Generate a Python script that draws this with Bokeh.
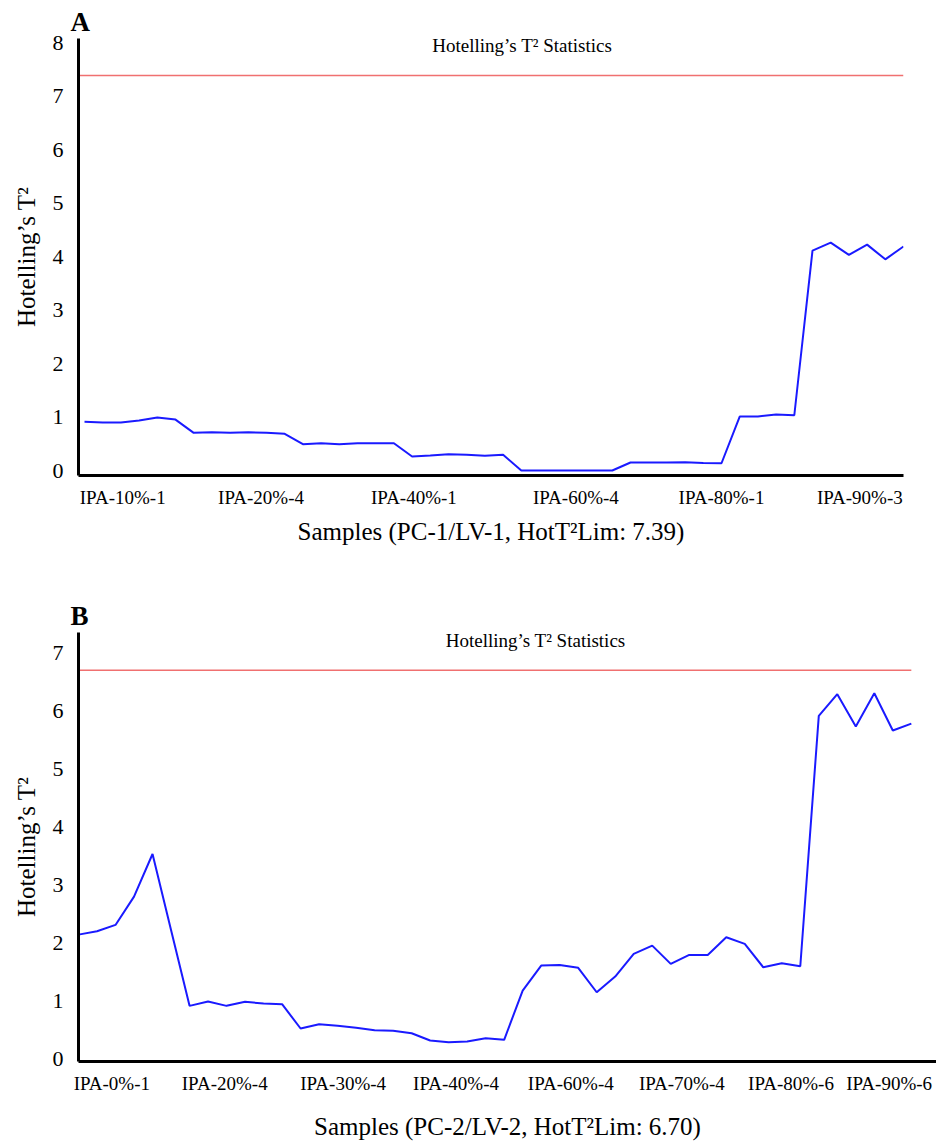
from bokeh.plotting import figure
from bokeh.layouts import column
from bokeh.models import FixedTicker, Label, Range1d
from bokeh.embed import file_html
from bokeh.resources import INLINE

FONT = "Liberation Serif"

# ---------------- data ----------------
# Panel A (PC-1/LV-1)
a_values = [0.910, 0.897, 0.897, 0.935, 0.991, 0.953,
            0.705, 0.716, 0.705, 0.716, 0.705, 0.686,
            0.492, 0.510, 0.492, 0.510, 0.510, 0.510,
            0.262, 0.280, 0.305, 0.294, 0.275, 0.294,
            0.000, 0.000, 0.000, 0.000, 0.000, 0.000,
            0.150, 0.150, 0.150, 0.155, 0.140, 0.136,
            1.010, 1.010, 1.047, 1.034,
            4.113, 4.262, 4.033, 4.225, 3.950, 4.190]
a_tick_labels = ["IPA-10%-1", "IPA-20%-4", "IPA-40%-1", "IPA-60%-4", "IPA-80%-1", "IPA-90%-3"]
a_tick_index = [2.1, 9.7, 18.1, 27.0, 35.0, 42.6]
a_limit = 7.39
a_xtitle = "Samples (PC-1/LV-1, HotT\u00b2Lim: 7.39)"

# Panel B (PC-2/LV-2)
b_values = [2.149, 2.206, 2.316, 2.803, 3.537, 2.230,
            0.923, 0.997, 0.923, 0.992, 0.963, 0.951,
            0.533, 0.607, 0.579, 0.545, 0.504, 0.494,
            0.452, 0.327, 0.298, 0.309, 0.366, 0.339,
            1.186, 1.616, 1.628, 1.577, 1.157, 1.427,
            1.817, 1.960, 1.645, 1.800, 1.800, 2.103,
            1.989, 1.587, 1.656, 1.604,
            5.915, 6.288, 5.731, 6.305, 5.662, 5.782]
b_tick_labels = ["IPA-0%-1", "IPA-20%-4", "IPA-30%-4", "IPA-40%-4",
                 "IPA-60%-4", "IPA-70%-4", "IPA-80%-6", "IPA-90%-6"]
b_tick_index = [1.8, 7.9, 14.3, 20.4, 26.6, 32.6, 38.5, 43.8]
b_limit = 6.70
b_xtitle = "Samples (PC-2/LV-2, HotT\u00b2Lim: 6.70)"

y_title = "Hotelling\u2019s T\u00b2"
chart_text = "Hotelling\u2019s T\u00b2 Statistics"


def make_panel(letter, values, tick_index, tick_labels, limit, xtitle,
               x_range, y_range, y_max_tick, frame_w, frame_h,
               border_top, border_bottom, border_right, text_pos, xtitle_standoff):
    p = figure(output_backend="svg", toolbar_location=None,
               frame_width=frame_w, frame_height=frame_h,
               min_border_left=78, min_border_right=border_right,
               min_border_top=border_top, min_border_bottom=border_bottom,
               x_range=Range1d(*x_range), y_range=Range1d(*y_range),
               title=letter)
    p.title.text_font = FONT
    p.title.text_font_size = "27px"
    p.title.text_font_style = "bold"
    p.title.text_color = "black"
    p.title.align = "left"
    p.title.offset = -8
    p.title.standoff = 3

    p.outline_line_color = None
    p.xgrid.grid_line_color = None
    p.ygrid.grid_line_color = None
    p.background_fill_color = "white"
    p.border_fill_color = "white"

    xs = list(range(len(values)))
    p.line(xs, values, line_color="#1a1aff", line_width=2)
    p.line([x_range[0], xs[-1]], [limit, limit], line_color="#f07070", line_width=1.5)

    # x axis
    xa = p.xaxis[0]
    xa.ticker = FixedTicker(ticks=tick_index)
    xa.major_label_overrides = {t: l for t, l in zip(tick_index, tick_labels)}
    xa.axis_label = xtitle
    xa.axis_label_text_font = FONT
    xa.axis_label_text_font_size = "25px"
    xa.axis_label_text_font_style = "normal"
    xa.axis_label_text_color = "black"
    xa.axis_label_standoff = xtitle_standoff
    xa.major_label_text_font = FONT
    xa.major_label_text_font_size = "19px"
    xa.major_label_text_color = "black"
    xa.major_label_standoff = 5
    xa.major_tick_line_color = None
    xa.minor_tick_line_color = None
    xa.axis_line_color = "black"
    xa.axis_line_width = 3

    # y axis
    ya = p.yaxis[0]
    ya.ticker = FixedTicker(ticks=list(range(0, y_max_tick + 1)))
    ya.axis_label = y_title
    ya.axis_label_text_font = FONT
    ya.axis_label_text_font_size = "25px"
    ya.axis_label_text_font_style = "normal"
    ya.axis_label_text_color = "black"
    ya.axis_label_standoff = 10
    ya.major_label_text_font = FONT
    ya.major_label_text_font_size = "22px"
    ya.major_label_text_color = "black"
    ya.major_label_standoff = 9
    ya.major_tick_line_color = None
    ya.minor_tick_line_color = None
    ya.axis_line_color = "black"
    ya.axis_line_width = 3

    p.add_layout(Label(x=text_pos[0], y=text_pos[1], text=chart_text,
                       text_font=FONT, text_font_size="19px",
                       text_align="center", text_baseline="middle",
                       text_color="black"))
    return p


pa = make_panel("A", a_values, a_tick_index, a_tick_labels, a_limit, a_xtitle,
                x_range=(-0.33, 45.0), y_range=(-0.093, 8.08), y_max_tick=8,
                frame_w=825, frame_h=437, border_top=38, border_bottom=108,
                border_right=17, text_pos=(24.05, 7.94), xtitle_standoff=7)

pb = make_panel("B", b_values, b_tick_index, b_tick_labels, b_limit, b_xtitle,
                x_range=(0.0, 46.36), y_range=(-0.035, 7.35), y_max_tick=7,
                frame_w=858, frame_h=429, border_top=49, border_bottom=75,
                border_right=0, text_pos=(24.7, 7.22), xtitle_standoff=16)

layout = column(pa, pb, spacing=0)

open("out.html", "w").write(file_html(layout, INLINE))
